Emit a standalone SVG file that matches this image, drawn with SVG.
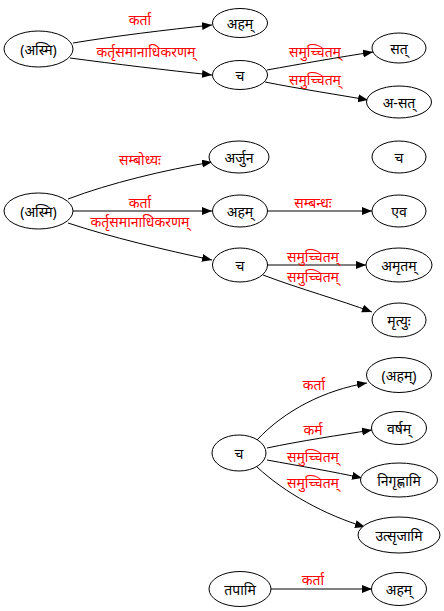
<svg xmlns="http://www.w3.org/2000/svg" width="444" height="611" viewBox="0 0 444 611">
<style>
.n ellipse{fill:#fff;stroke:#000;stroke-width:1}
.n text{font-family:"Noto Sans","Noto Sans Devanagari",sans-serif;font-size:14px;fill:#000;text-anchor:middle;dominant-baseline:central}
.e path{fill:none;stroke:#000;stroke-width:1;marker-end:url(#ah)}
.e text{font-family:"Noto Sans","Noto Sans Devanagari",sans-serif;font-size:14px;fill:#ff0000;text-anchor:middle;dominant-baseline:central}
</style>
<defs>
<marker id="ah" markerUnits="userSpaceOnUse" markerWidth="11" markerHeight="9" refX="10" refY="4" orient="auto">
<path d="M0,0 L10,4 L0,8 z" fill="#000"/>
</marker>
</defs>
<rect width="444" height="611" fill="#fff"/>
<g id="edges" class="e">
<path d="M73,43 C115,36 165,30 212,25"/>
<text x="140" y="19">कर्ता</text>
<path d="M70,58 C115,64 165,70 212,75"/>
<text x="146" y="51">कर्तृसमानाधिकरणम्</text>
<path d="M267,70 C300,64 340,57 373,52"/>
<text x="315" y="51">समुच्चितम्</text>
<path d="M265,82 C300,89 340,95 368,100"/>
<text x="315" y="79">समुच्चितम्</text>

<path d="M68,199 C110,183 165,170 212,162"/>
<text x="140" y="159">सम्बोध्यः</text>
<path d="M73,211 L212,211"/>
<text x="140" y="202">कर्ता</text>
<text x="140" y="221">कर्तृसमानाधिकरणम्</text>
<path d="M267,211 L372,211"/>
<text x="313" y="202">सम्बन्धः</text>
<path d="M68,223 C110,237 165,250 212,260"/>
<path d="M267,265 L366,265"/>
<text x="313" y="256">समुच्चितम्</text>
<path d="M263,275 C300,289 340,300 372,312"/>
<text x="313" y="276">समुच्चितम्</text>

<path d="M257,440 C285,410 325,390 367,383"/>
<text x="314" y="384">कर्ता</text>
<path d="M267,448 C300,441 340,435 372,430"/>
<text x="313" y="429">कर्म</text>
<path d="M267,460 C300,466 335,472 362,478"/>
<text x="313" y="456">समुच्चितम्</text>
<path d="M257,467 C285,493 325,515 365,527"/>
<text x="313" y="482">समुच्चितम्</text>
<path d="M271,589 L372,589"/>
<text x="313" y="579">कर्ता</text>
</g>
<g id="n1" class="n"><ellipse cx="38.5" cy="49" rx="34.5" ry="18"/><text x="38.5" y="49">(अस्मि)</text></g>
<g id="n2" class="n"><ellipse cx="240" cy="23" rx="27.5" ry="14.5"/><text x="240" y="23">अहम्</text></g>
<g id="n3" class="n"><ellipse cx="240" cy="75" rx="27.5" ry="14.5"/><text x="240" y="75">च</text></g>
<g id="n4" class="n"><ellipse cx="399" cy="48" rx="27" ry="15"/><text x="399" y="48">सत्</text></g>
<g id="n5" class="n"><ellipse cx="399" cy="102" rx="32.5" ry="16"/><text x="399" y="102">अ-सत्</text></g>

<g id="n6" class="n"><ellipse cx="38.5" cy="211" rx="34.5" ry="18"/><text x="38.5" y="211">(अस्मि)</text></g>
<g id="n7" class="n"><ellipse cx="239" cy="157" rx="30" ry="16"/><text x="239" y="157">अर्जुन</text></g>
<g id="n8" class="n"><ellipse cx="240" cy="211" rx="27.5" ry="16"/><text x="240" y="211">अहम्</text></g>
<g id="n9" class="n"><ellipse cx="240" cy="265" rx="27.5" ry="17"/><text x="240" y="265">च</text></g>
<g id="n10" class="n"><ellipse cx="399" cy="157" rx="27" ry="16"/><text x="399" y="157">च</text></g>
<g id="n11" class="n"><ellipse cx="399" cy="211" rx="27" ry="16"/><text x="399" y="211">एव</text></g>
<g id="n12" class="n"><ellipse cx="399" cy="265" rx="33" ry="17"/><text x="399" y="265">अमृतम्</text></g>
<g id="n13" class="n"><ellipse cx="399" cy="320" rx="27" ry="17"/><text x="399" y="320">मृत्युः</text></g>

<g id="n14" class="n"><ellipse cx="239" cy="453" rx="27" ry="18"/><text x="239" y="453">च</text></g>
<g id="n15" class="n"><ellipse cx="399" cy="375" rx="32.5" ry="17.5"/><text x="399" y="375">(अहम्)</text></g>
<g id="n16" class="n"><ellipse cx="399" cy="428" rx="27.5" ry="16.5"/><text x="399" y="428">वर्षम्</text></g>
<g id="n17" class="n"><ellipse cx="399" cy="480" rx="38.5" ry="17"/><text x="399" y="480">निगृह्णामि</text></g>
<g id="n18" class="n"><ellipse cx="399" cy="535" rx="41" ry="18"/><text x="399" y="535">उत्सृजामि</text></g>
<g id="n19" class="n"><ellipse cx="240" cy="589" rx="31" ry="17.5"/><text x="240" y="589">तपामि</text></g>
<g id="n20" class="n"><ellipse cx="399" cy="589" rx="27.5" ry="16.5"/><text x="399" y="589">अहम्</text></g>
</svg>
